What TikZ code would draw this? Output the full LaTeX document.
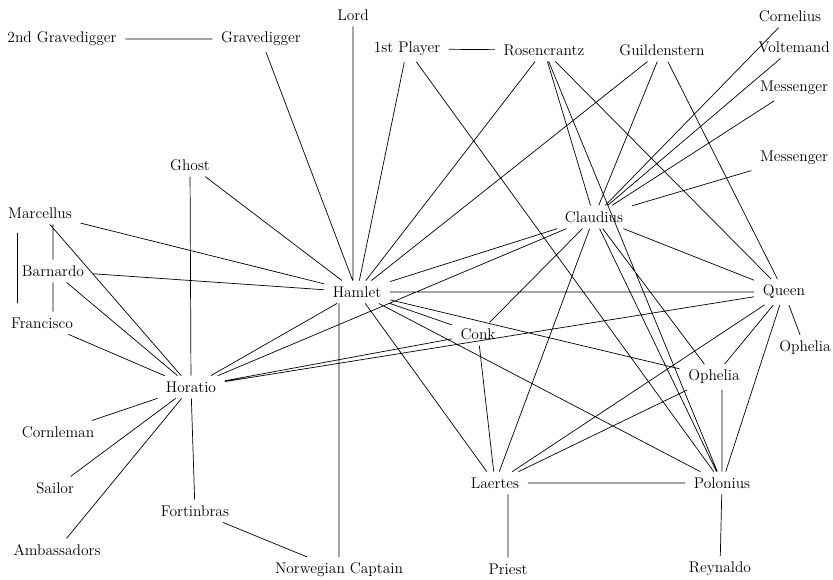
\documentclass[tikz,border=0pt]{standalone}
\usepackage{tikz}

\begin{document}
\begin{tikzpicture}[x=0.25mm,y=-0.25mm,inner xsep=6pt,inner ysep=4pt,
  font=\fontsize{11}{13}\selectfont,line width=0.5pt]
\useasboundingbox (0,0) rectangle (833,579);
\node (gd2) at (62,39) {2nd Gravedigger};
\node (gd) at (261,39) {Gravedigger};
\node (lord) at (353,15) {Lord};
\node (pl) at (407,49) {1st Player};
\node (ros) at (544,50) {Rosencrantz};
\node (gui) at (662,50) {Guildenstern};
\node (cor) at (790,16) {Cornelius};
\node (vol) at (794,47) {Voltemand};
\node (me1) at (794,88) {Messenger};
\node (me2) at (794,158) {Messenger};
%
\node (gho) at (190,165) {Ghost};
\node (mar) at (40,213) {Marcellus};
\node (bar) at (53,271) {Barnardo};
\node (fra) at (42,323) {Francisco};
\node (ham) at (357,292) {Hamlet};
\node (cla) at (594,217) {Claudius};
\node (que) at (784,292) {Queen};
\node (op2) at (805,348) {Ophelia};
\node (con) at (478,334) {Conk};
\node (oph) at (714,377) {Ophelia};
%
\node (hor) at (191,387) {Horatio};
\node (crn) at (58,432) {Cornleman};
\node (sai) at (55,488) {Sailor};
\node (fb) at (195,511) {Fortinbras};
\node (amb) at (57,550) {Ambassadors};
\node (nc) at (339,570) {Norwegian Captain};
\node (lae) at (495,483) {Laertes};
\node (pol) at (722,483) {Polonius};
\node (pri) at (508,569) {Priest};
\node (rey) at (720,569) {Reynaldo};
%%
\draw (gd2) -- (gd) -- (ham) -- (gho) -- (hor) -- (ham) (lord) -- (lord |- ham.north)
 (pl) -- (ros) -- (ham) -- (pl) -- (pol) -- (ros) -- (cla) -- (gui) -- (ham) (ros) -- (que) -- (gui)
 (cor) -- (cla) -- (vol) (me1) -- (cla) -- (me2)
 (mar) -- (ham) -- (bar) -- (hor) -- (mar) (fra) -- (hor)
 (bar.north) -- (bar.north |- mar.south) (bar.south) -- (bar.south |- fra.north)
 ([xshift=-16pt,yshift=-6pt]mar.south) -- ([xshift=-16pt,yshift=6pt]mar.south |- fra.north)
 (ham) -- (cla) -- (hor) -- (con) -- (ham) -- (oph) (ham) -- (que) -- (hor) (ham) -- (pol) (ham) -- (lae)
 (nc.north) -- (nc.north |- ham.south)
 (crn) -- (hor) -- (sai) (amb) -- (hor) -- (fb) -- (nc)
 (cla) -- (que) (cla) -- (con) -- (lae) -- (cla) -- (pol) (cla) -- (oph)
 (op2) -- (que) -- (oph) -- (lae) -- (que) -- (pol) -- (lae) (pol.north) -- (pol.north |- oph.south)
 (pri.north) -- (pri.north |- lae.south) (rey) -- (pol);
\end{tikzpicture}
\end{document}
